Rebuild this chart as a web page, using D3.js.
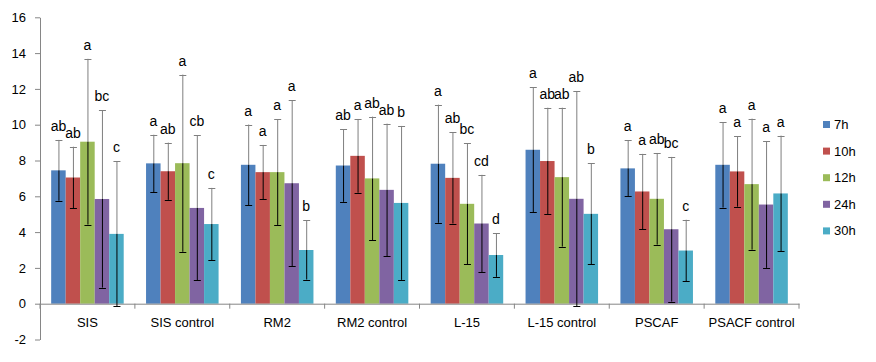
<!DOCTYPE html>
<html>
<head>
<meta charset="utf-8">
<script src="https://cdn.jsdelivr.net/npm/d3@7"></script>
<style>
  body { margin: 0; background: #fff; }
  text { font-family: "Liberation Sans", Arial, sans-serif; }
</style>
</head>
<body>
<div id="chart"></div>
<script>
// categories and series
const categories = ["SIS", "SIS control", "RM2", "RM2 control", "L-15", "L-15 control", "PSCAF", "PSACF control"];
const series = ["7h", "10h", "12h", "24h", "30h"];
const yTicks = [-2, 0, 2, 4, 6, 8, 10, 12, 14, 16];

// means per series (one value per category)
const mean7h  = [7.45, 7.84, 7.76, 7.72, 7.82, 8.60, 7.56, 7.76];
const mean10h = [7.05, 7.40, 7.35, 8.26, 7.03, 7.97, 6.27, 7.39];
const mean12h = [9.05, 7.85, 7.35, 7.00, 5.58, 7.07, 5.86, 6.68];
const mean24h = [5.85, 5.35, 6.73, 6.36, 4.48, 5.86, 4.16, 5.54];
const mean30h = [3.90, 4.45, 3.00, 5.63, 2.72, 5.02, 2.97, 6.16];

// error (+/-) per series
const err7h  = [1.70, 1.60, 2.25, 2.03, 3.30, 3.50, 1.56, 2.39];
const err10h = [1.72, 1.60, 1.52, 2.06, 2.55, 2.98, 2.10, 1.97];
const err12h = [4.63, 4.95, 2.95, 3.45, 3.38, 3.88, 2.56, 3.66];
const err24h = [4.95, 4.05, 4.63, 3.70, 2.72, 6.00, 4.04, 3.54];
const err30h = [4.05, 2.02, 1.65, 4.30, 1.22, 2.83, 1.72, 3.23];

// significance letters
const let7h  = ["ab", "a", "a", "ab", "a", "a", "a", "a"];
const let10h = ["ab", "ab", "a", "a", "ab", "ab", "a", "a"];
const let12h = ["a", "a", "a", "ab", "bc", "ab", "ab", "a"];
const let24h = ["bc", "cb", "a", "ab", "cd", "ab", "bc", "a"];
const let30h = ["c", "c", "b", "b", "d", "b", "c", "a"];

const colors = ["#4F81BD", "#C0504D", "#9BBB59", "#8064A2", "#4BACC6"];

const means = [mean7h, mean10h, mean12h, mean24h, mean30h];
const errs = [err7h, err10h, err12h, err24h, err30h];
const letters = [let7h, let10h, let12h, let24h, let30h];

const data = [];
categories.forEach((c, ci) => {
  series.forEach((s, si) => {
    data.push({cat: c, ser: s, v: means[si][ci], e: errs[si][ci], l: letters[si][ci], color: colors[si]});
  });
});

const W = 876, H = 362;
const svg = d3.select("#chart").append("svg")
  .attr("width", W).attr("height", H);

const x0 = d3.scaleBand().domain(categories).range([40, 799]).paddingInner(0).paddingOuter(0);
const x1 = d3.scaleBand().domain(series).range([0, x0.bandwidth()]).paddingInner(0).paddingOuter(0.77);
const y = d3.scaleLinear().domain([-2, 16]).range([339.5, 17.3]);

const axisColor = "#868686";

// Y axis
const yAxis = svg.append("g")
  .attr("transform", "translate(40,0)")
  .call(d3.axisLeft(y).tickValues(yTicks).tickFormat(d => String(d)).tickSize(5).tickSizeOuter(0).tickPadding(9));
yAxis.select(".domain").attr("stroke", axisColor);
yAxis.selectAll(".tick line").attr("stroke", axisColor);
yAxis.selectAll(".tick text")
  .attr("font-size", 13).attr("fill", "#000")
  .style("font-family", "'Liberation Sans', Arial, sans-serif");

// bars
svg.append("g").selectAll("rect")
  .data(data)
  .join("rect")
    .attr("x", d => x0(d.cat) + x1(d.ser))
    .attr("y", d => y(Math.max(0, d.v)))
    .attr("width", x1.bandwidth())
    .attr("height", d => Math.abs(y(d.v) - y(0)))
    .attr("fill", d => d.color);

// X axis line at zero
const xAxis = svg.append("g")
  .attr("transform", `translate(0,${y(0)})`)
  .call(d3.axisBottom(x0).tickSize(0).tickPadding(14));
xAxis.select(".domain").attr("stroke", axisColor);
xAxis.selectAll(".tick text")
  .attr("font-size", 13).attr("fill", "#000")
  .style("font-family", "'Liberation Sans', Arial, sans-serif");

// category boundary ticks
const bounds = categories.map(c => x0(c)).concat([x0(categories[categories.length - 1]) + x0.bandwidth()]);
svg.append("g").selectAll("line")
  .data(bounds)
  .join("line")
    .attr("x1", d => d).attr("x2", d => d)
    .attr("y1", y(0)).attr("y2", y(0) + 5)
    .attr("stroke", axisColor);

// error bars
const cap = 3.5;
const eb = svg.append("g").selectAll("g")
  .data(data)
  .join("g")
    .attr("transform", d => `translate(${x0(d.cat) + x1(d.ser) + x1.bandwidth() / 2 + 0.5},0)`);
// plus part (grey)
eb.append("line")
  .attr("x1", 0).attr("x2", 0)
  .attr("y1", d => y(d.v)).attr("y2", d => y(d.v + d.e))
  .attr("stroke", "#7f7f7f");
eb.append("line")
  .attr("x1", -cap).attr("x2", cap)
  .attr("y1", d => Math.round(y(d.v + d.e)) + 0.5).attr("y2", d => Math.round(y(d.v + d.e)) + 0.5)
  .attr("stroke", "#7f7f7f");
// minus part (black)
eb.append("line")
  .attr("x1", 0).attr("x2", 0)
  .attr("y1", d => y(d.v)).attr("y2", d => y(d.v - d.e))
  .attr("stroke", "#000");
eb.append("line")
  .attr("x1", -cap).attr("x2", cap)
  .attr("y1", d => Math.round(y(d.v - d.e)) + 0.5).attr("y2", d => Math.round(y(d.v - d.e)) + 0.5)
  .attr("stroke", "#000");

// letters
svg.append("g").selectAll("text")
  .data(data)
  .join("text")
    .attr("x", d => x0(d.cat) + x1(d.ser) + x1.bandwidth() / 2)
    .attr("y", d => y(d.v + d.e) - 9)
    .attr("text-anchor", "middle")
    .attr("font-size", 14)
    .attr("fill", "#000")
    .text(d => d.l);

// legend
const legend = svg.append("g").selectAll("g")
  .data(series)
  .join("g")
    .attr("transform", (d, i) => `translate(823,${121 + i * 26.6})`);
legend.append("rect")
  .attr("width", 7).attr("height", 7)
  .attr("fill", (d, i) => colors[i]);
legend.append("text")
  .attr("x", 11).attr("y", 8)
  .attr("font-size", 13)
  .attr("fill", "#000")
  .text(d => d);
</script>
</body>
</html>
